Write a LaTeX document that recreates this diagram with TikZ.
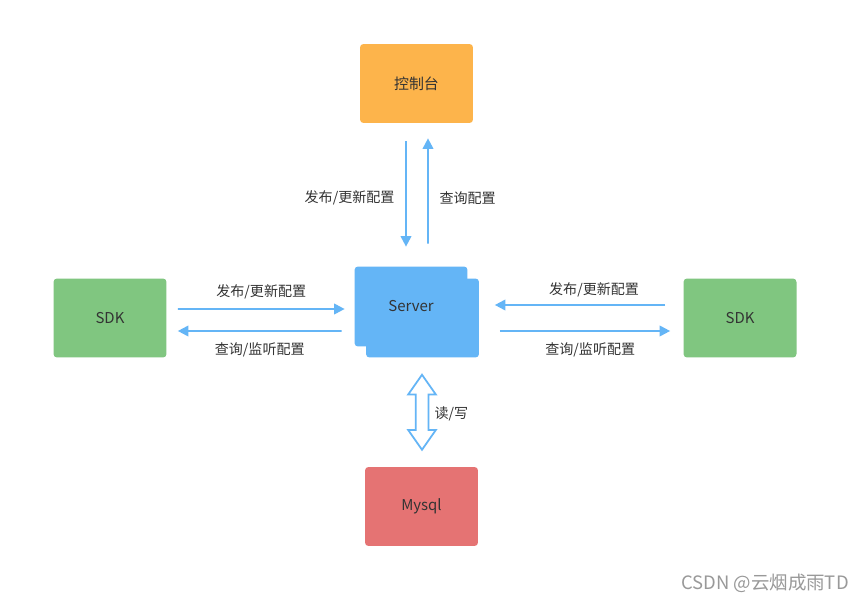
\documentclass[tikz,border=0pt]{standalone}
\usepackage{fontspec}
\setmainfont{Noto Sans CJK SC}
\usetikzlibrary{arrows.meta,calc,shapes.arrows}
\definecolor{consoleorange}{HTML}{FDB44B}
\definecolor{sdkgreen}{HTML}{80C680}
\definecolor{serverblue}{HTML}{64B5F6}
\definecolor{dbred}{HTML}{E57373}
\definecolor{arrowblue}{HTML}{64B5F6}
\definecolor{textgray}{HTML}{333333}
\begin{document}
\begin{tikzpicture}[x=0.02cm, y=-0.02cm, >={Triangle[length=6pt,width=6pt]},
    box/.style={rounded corners=2pt, minimum width=2.26cm, minimum height=1.58cm,
        font=\fontsize{8.5}{10}\selectfont, text=textgray},
    flow/.style={->, line width=1.1pt, draw=arrowblue},
    lbl/.style={font=\fontsize{8}{10}\selectfont, text=textgray, inner sep=0pt}]
    \useasboundingbox[fill=white] (0,0) rectangle (868,604);
    % 控制台
    \node[box, fill=consoleorange] (console) at (416.5,83.5) {控制台};
    % SDK
    \node[box, fill=sdkgreen] (sdkl) at (110,318) {SDK};
    \node[box, fill=sdkgreen] (sdkr) at (740,318) {SDK};
    % Server
    \node[box, fill=serverblue] (serverfront) at (422.5,318) {};
    \node[box, fill=serverblue, minimum height=1.6cm] (server) at (411,306.5) {Server};
    % Mysql
    \node[box, fill=dbred] (mysql) at (421.5,506.5) {Mysql};
    % 控制台 <-> Server
    \draw[flow] ($(console.south)+(-10.5,18)$) -- ($(server.north)+(-5,-19.5)$)
        node[lbl, midway, left=6pt, yshift=-2pt] {发布/更新配置};
    \draw[flow] ($(server.north)+(17,-22.5)$) -- ($(console.south)+(11.5,15)$)
        node[lbl, midway, right=6pt, yshift=-4pt] {查询配置};
    % 左边 SDK <-> Server
    \draw[flow] ($(sdkl.east)+(11,-9)$) -- ($(server.west)+(-9.5,2.5)$)
        node[lbl, midway, above=5pt] {发布/更新配置};
    \draw[flow] ($(server.west)+(-12.5,24.5)$) -- ($(sdkl.east)+(11,13)$)
        node[lbl, midway, below=6pt] {查询/监听配置};
    % 右边 SDK <-> Server
    \draw[flow] ($(sdkr.west)+(-18,-13)$) -- ($(serverfront.east)+(15.5,-13)$)
        node[lbl, midway, above=4pt, xshift=8pt] {发布/更新配置};
    \draw[flow] ($(serverfront.east)+(20.5,13)$) -- ($(sdkr.west)+(-13,13)$)
        node[lbl, midway, below=6pt, xshift=3pt] {查询/监听配置};
    % 读/写
    \node[double arrow, rotate=90, draw=arrowblue, line width=1pt, fill=white,
        inner xsep=0pt, inner ysep=0.11cm, minimum height=1.5cm,
        double arrow head extend=0.15cm, double arrow tip angle=70] (rw)
        at ($(serverfront.south)!0.5!(mysql.north)$) {};
    \node[lbl, right=7pt, yshift=-1pt] (rwlabel) at (rw.center) {读/写};
    % 水印
    \node[font=\fontsize{10.5}{12}\selectfont, text=gray!80] (mark) at (765,583) {CSDN @云烟成雨TD};
\end{tikzpicture}
\end{document}
